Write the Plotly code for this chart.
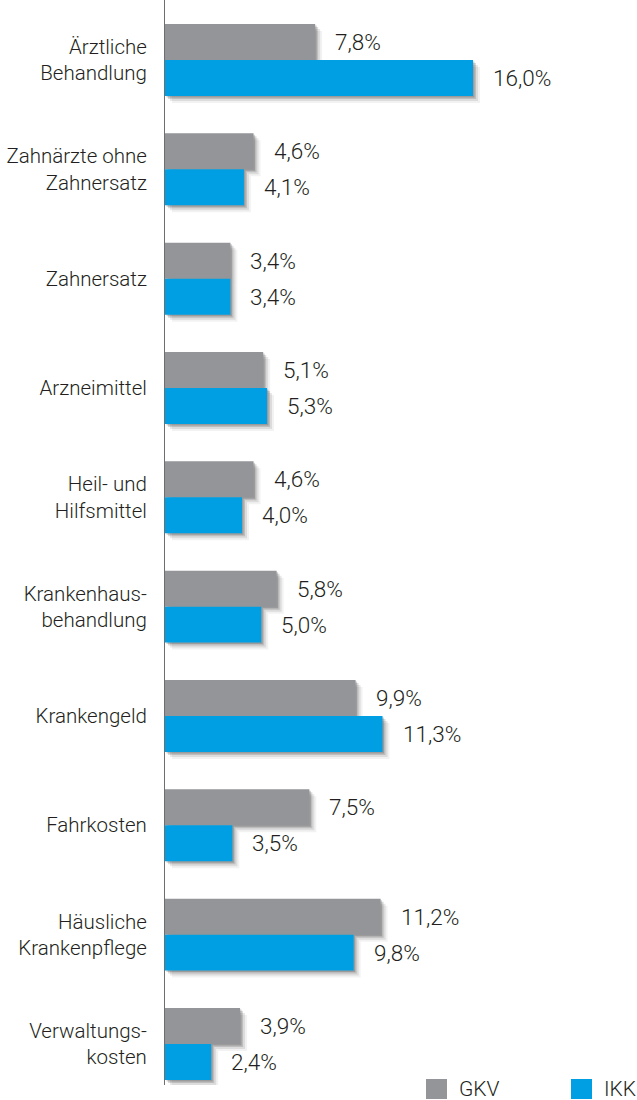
import plotly.graph_objects as go

categories = [
    "Ärztliche<br>Behandlung",
    "Zahnärzte ohne<br>Zahnersatz",
    "Zahnersatz",
    "Arzneimittel",
    "Heil- und<br>Hilfsmittel",
    "Krankenhaus-<br>behandlung",
    "Krankengeld",
    "Fahrkosten",
    "Häusliche<br>Krankenpflege",
    "Verwaltungs-<br>kosten",
]
gkv = [7.8, 4.6, 3.4, 5.1, 4.6, 5.8, 9.9, 7.5, 11.2, 3.9]
ikk = [16.0, 4.1, 3.4, 5.3, 4.0, 5.0, 11.3, 3.5, 9.8, 2.4]
series_names = ["GKV", "IKK"]

GRAY = "#939598"
BLUE = "#009fe3"
TEXT = "#231f20"
FONT = "Roboto"

W, H = 637, 1100
ML, MR, MT, MB = 165, 0, 0, 15
plot_w = W - ML - MR
plot_h = H - MT - MB
px_per_unit = 19.25
xmax = plot_w / px_per_unit

bw = 0.329
cat_px = 109.33
# y range (reversed): first category center at 60px from top
y_top = -60 / cat_px
y_bot = (plot_h - 60) / cat_px

fig = go.Figure()

def fmt(v):
    return f"{v:.1f}".replace(".", ",") + "%"

def add_series(vals, color, offset, name):
    # soft shadow layers
    for k, a in [(7, 0.05), (5, 0.09), (3, 0.14), (1.5, 0.18)]:
        sx = k / px_per_unit
        sy = k / cat_px
        fig.add_trace(go.Bar(
            y=categories, x=vals, base=sx, orientation="h",
            offset=offset + sy, width=bw,
            marker=dict(color=f"rgba(0,0,0,{a})", line=dict(width=0)),
            showlegend=False, hoverinfo="skip",
        ))
    fig.add_trace(go.Bar(
        y=categories, x=vals, orientation="h", name=name,
        offset=offset, width=bw,
        marker=dict(color=color, line=dict(width=0)),
        showlegend=False,
    ))

add_series(gkv, GRAY, -bw, series_names[0])
add_series(ikk, BLUE, 0.0, series_names[1])

VAL_FONT = dict(size=22.5, color=TEXT, family=FONT, weight=300)
annotations = []
for cat, g, i in zip(categories, gkv, ikk):
    annotations.append(dict(x=g, y=cat, xref="x", yref="y", text=fmt(g),
                            showarrow=False, xanchor="left", xshift=18,
                            yshift=bw * cat_px / 2, font=VAL_FONT))
    annotations.append(dict(x=i, y=cat, xref="x", yref="y", text=fmt(i),
                            showarrow=False, xanchor="left", xshift=18,
                            yshift=-bw * cat_px / 2, font=VAL_FONT))

# legend drawn manually (large square swatches)
def px_to_paper_x(px):
    return (px - ML) / plot_w

def px_to_paper_y(py):
    return (H - MB - py) / plot_h

shapes = []
for name, color, sx in [(series_names[0], GRAY, 426), (series_names[1], BLUE, 571)]:
    shapes.append(dict(type="rect", xref="paper", yref="paper",
                       x0=px_to_paper_x(sx), x1=px_to_paper_x(sx + 21),
                       y0=px_to_paper_y(1079), y1=px_to_paper_y(1099),
                       fillcolor=color, line=dict(width=0)))
    annotations.append(dict(x=px_to_paper_x(sx + 31), y=px_to_paper_y(1089),
                            xref="paper", yref="paper", text=name, showarrow=False,
                            xanchor="left", yanchor="middle",
                            font=dict(size=21, color=TEXT, family=FONT, weight=300)))

fig.update_layout(
    width=W, height=H,
    margin=dict(l=ML, r=MR, t=MT, b=MB, pad=0),
    paper_bgcolor="white", plot_bgcolor="white",
    barmode="overlay",
    showlegend=False,
    annotations=annotations,
    shapes=shapes,
    font=dict(family=FONT, color=TEXT, size=20, weight=300),
    xaxis=dict(range=[0, xmax], showgrid=False, zeroline=False,
               showticklabels=False, showline=False, fixedrange=True),
    yaxis=dict(range=[y_bot, y_top], showgrid=False, zeroline=False,
               showline=True, linecolor="#6d6e71", linewidth=1,
               ticks="", ticklabelstandoff=13, automargin=False,
               tickfont=dict(size=20.5, color=TEXT, family=FONT, weight=300),
               categoryorder="array", categoryarray=categories),
)

fig.write_html(
    "out.html",
    config={"displayModeBar": False},
    post_script="document.body.style.margin='0px';document.body.style.overflow='hidden';",
)
